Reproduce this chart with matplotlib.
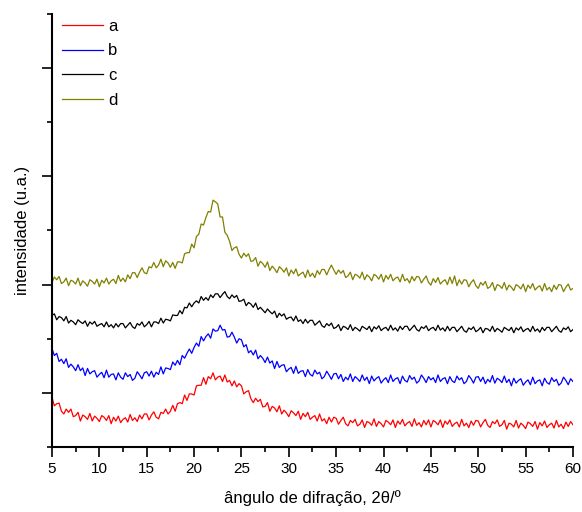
import numpy as np
import matplotlib
matplotlib.use("Agg")
import matplotlib.pyplot as plt
from matplotlib.ticker import MultipleLocator, NullFormatter

plt.rcParams['font.family'] = ['Liberation Sans', 'DejaVu Sans']

# intensities, every 0.25 degree from 5 to 60 (2-theta)
series_a = [
    92, 76, 80, 81, 66, 61, 70, 64, 70, 56, 58, 64, 48, 59, 56, 51, 62, 48, 57, 53,
    47, 58, 55, 49, 58, 43, 55, 48, 57, 45, 51, 54, 46, 60, 49, 54, 47, 59, 52, 61,
    61, 50, 59, 65, 55, 52, 64, 62, 70, 61, 66, 77, 66, 80, 82, 80, 96, 86, 98, 98,
    96, 113, 114, 114, 128, 116, 130, 126, 137, 124, 129, 131, 121, 133, 120, 123,
    113, 122, 111, 117, 113, 98, 102, 104, 89, 82, 90, 84, 88, 74, 75, 82, 66, 75, 72, 65,
    76, 61, 68, 63, 56, 67, 63, 58, 66, 51, 62, 56, 64, 51, 55, 58, 48, 61, 48, 52,
    43, 55, 46, 55, 53, 42, 49, 55, 43, 39, 49, 45, 51, 39, 42, 50, 36, 47, 45, 40,
    52, 38, 47, 43, 37, 49, 46, 41, 50, 36, 48, 42, 51, 39, 44, 47, 38, 52, 40, 45,
    37, 49, 41, 50, 37, 49, 46, 41, 50, 36, 48, 42, 50, 38, 43, 46, 37, 51, 39, 44,
    36, 48, 40, 49, 48, 37, 45, 51, 40, 36, 47, 43, 50, 38, 41, 49, 33, 44, 42, 37,
    49, 35, 44, 40, 34, 46, 43, 38, 47, 33, 45, 39, 48, 36, 41, 44, 35, 49, 37, 42,
    34, 46, 38, 47, 41,
]

series_b = [
    182, 169, 173, 158, 162, 154, 163, 147, 153, 148, 141, 152, 141, 146, 132, 145,
    135, 139, 141, 129, 134, 138, 128, 142, 129, 134, 135, 124, 137, 129, 125, 137,
    130, 134, 123, 127, 139, 133, 126, 137, 139, 131, 140, 129, 138, 134, 148, 135,
    146, 145, 143, 157, 151, 160, 152, 169, 164, 173, 181, 173, 184, 192, 186, 204,
    196, 204, 209, 201, 218, 214, 215, 225, 216, 217, 203, 204, 212, 203, 192, 200,
    198, 185, 189, 174, 178, 170, 179, 163, 169, 164, 156, 166, 155, 159, 145, 158,
    147, 151, 152, 139, 144, 147, 136, 149, 136, 140, 141, 130, 143, 134, 131, 142,
    135, 138, 126, 130, 140, 133, 125, 135, 136, 126, 134, 121, 129, 124, 135, 121,
    130, 126, 121, 133, 123, 129, 117, 131, 122, 127, 130, 118, 124, 128, 119, 133,
    121, 126, 128, 117, 131, 123, 120, 132, 125, 129, 118, 122, 133, 127, 119, 130,
    124, 128, 119, 133, 121, 126, 128, 117, 130, 122, 119, 131, 124, 128, 117, 121,
    132, 126, 118, 129, 130, 121, 129, 117, 125, 120, 132, 118, 127, 124, 119, 131,
    119, 125, 113, 127, 118, 123, 126, 114, 120, 124, 115, 129, 117, 122, 124, 113,
    127, 119, 116, 128, 121, 125, 114, 118, 129, 123, 115, 126, 121,
]

series_c = [
    243, 246, 235, 241, 239, 233, 241, 229, 234, 231, 226, 235, 231, 228, 233, 223,
    231, 227, 232, 223, 226, 228, 222, 231, 222, 226, 220, 228, 222, 228, 228, 220,
    225, 230, 222, 219, 228, 225, 231, 222, 226, 232, 222, 231, 231, 228, 238, 229,
    236, 235, 233, 244, 243, 243, 252, 246, 258, 257, 266, 259, 266, 270, 266, 278,
    271, 276, 271, 281, 276, 283, 283, 276, 282, 287, 278, 274, 281, 276, 280, 269,
    270, 273, 261, 267, 264, 258, 266, 254, 258, 253, 248, 255, 250, 246, 251, 239,
    247, 242, 246, 236, 239, 240, 233, 242, 232, 235, 228, 236, 229, 234, 234, 225,
    229, 233, 224, 221, 228, 224, 229, 219, 221, 226, 215, 223, 221, 217, 226, 215,
    221, 218, 214, 223, 220, 217, 223, 213, 222, 218, 224, 215, 219, 221, 215, 225,
    216, 220, 214, 223, 217, 223, 223, 215, 220, 225, 217, 214, 222, 219, 224, 215,
    219, 221, 215, 225, 216, 220, 214, 223, 215, 221, 221, 213, 218, 223, 215, 212,
    220, 217, 222, 213, 216, 221, 211, 219, 218, 214, 223, 213, 219, 216, 212, 221,
    218, 215, 221, 211, 220, 216, 222, 213, 217, 219, 213, 223, 214, 218, 212, 221,
    215, 221, 221, 213, 218, 223, 215, 212, 220, 217, 222, 213, 217,
]

series_d = [
    304, 314, 309, 315, 302, 305, 312, 298, 308, 306, 301, 312, 298, 307, 303, 297,
    309, 306, 301, 310, 296, 308, 303, 312, 301, 307, 310, 302, 317, 306, 312, 305,
    318, 311, 322, 322, 313, 323, 331, 322, 320, 333, 331, 341, 331, 336, 347, 333,
    344, 340, 332, 341, 330, 342, 342, 340, 357, 359, 359, 375, 368, 389, 393, 412,
    410, 424, 435, 434, 456, 453, 449, 425, 425, 397, 391, 380, 363, 368, 370, 356,
    349, 358, 352, 357, 343, 344, 350, 334, 343, 339, 332, 342, 326, 334, 329, 322,
    333, 329, 323, 331, 316, 327, 320, 329, 316, 320, 323, 313, 327, 315, 321, 313,
    326, 319, 328, 328, 318, 328, 336, 327, 319, 327, 321, 326, 313, 316, 323, 309,
    319, 317, 312, 323, 309, 318, 314, 307, 319, 316, 310, 319, 305, 317, 310, 319,
    307, 312, 314, 305, 319, 307, 311, 303, 315, 307, 315, 314, 303, 310, 316, 304,
    299, 311, 304, 313, 301, 306, 309, 300, 314, 302, 316, 298, 309, 301, 309, 308,
    296, 304, 309, 298, 293, 304, 299, 306, 293, 296, 304, 289, 300, 298, 293, 304,
    290, 299, 295, 289, 300, 297, 292, 301, 287, 299, 293, 302, 290, 295, 298, 288,
    302, 290, 295, 287, 299, 291, 300, 299, 287, 295, 301, 290, 293,
]

labels = ["a", "b", "c", "d"]
colors = ["#ff0000", "#0000ff", "#000000", "#808000"]

fig = plt.figure(figsize=(5.82, 5.12), dpi=100)
ax = fig.add_axes([0.0893, 0.127, 0.8952, 0.8457])

for ys, lab, col in zip([series_a, series_b, series_c, series_d], labels, colors):
    xs = np.linspace(5, 60, len(ys))
    ax.plot(xs, ys, color=col, lw=0.9, label=lab)

ax.set_xlim(5, 60)
ax.set_ylim(0, 800)
ax.xaxis.set_major_locator(MultipleLocator(5))
ax.xaxis.set_minor_locator(MultipleLocator(2.5))
ax.yaxis.set_major_locator(MultipleLocator(200, offset=100))
ax.yaxis.set_minor_locator(MultipleLocator(100))
ax.yaxis.set_major_formatter(NullFormatter())
ax.tick_params(axis='both', which='major', direction='out', length=7, width=1.2, labelsize=11)
ax.tick_params(axis='both', which='minor', direction='out', length=3.5, width=1.2)
ax.tick_params(axis='x', pad=4)
for s in ['top', 'right']:
    ax.spines[s].set_visible(False)
for s in ['left', 'bottom']:
    ax.spines[s].set_linewidth(1.5)

ax.set_xlabel("ângulo de difração, 2θ/º", fontsize=12, labelpad=10)
ax.set_ylabel("intensidade (u.a.)", fontsize=12)
ax.yaxis.set_label_coords(-0.042, 0.5)

leg = ax.legend(loc='upper left', bbox_to_anchor=(0.0, 1.012), frameon=False, fontsize=12,
                handlelength=2.45, handletextpad=0.3, labelspacing=0.58, borderaxespad=0.2)

fig.savefig("out.png", dpi=100)
